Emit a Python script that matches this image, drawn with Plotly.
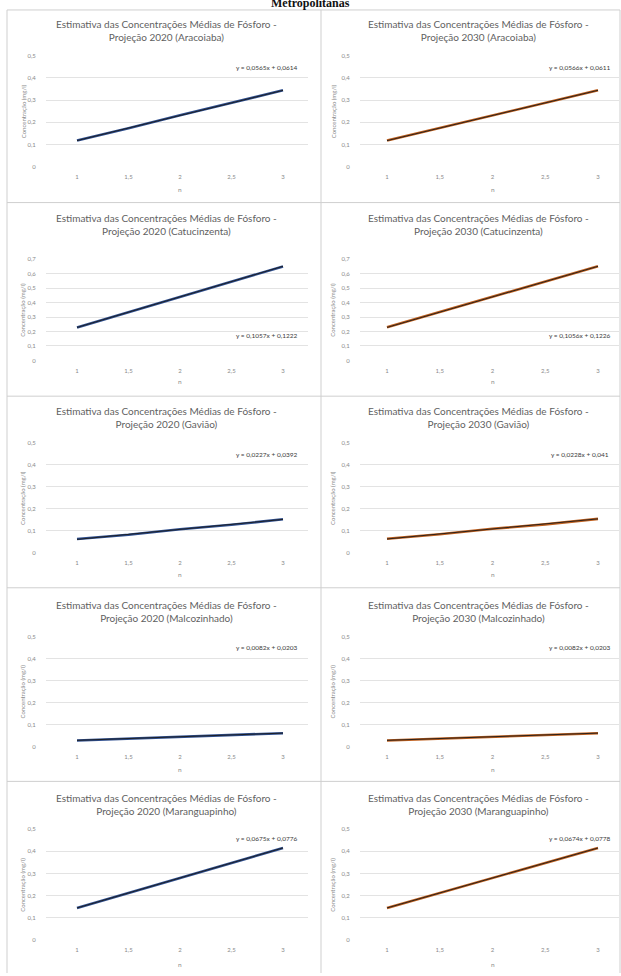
import plotly.graph_objects as go

# ---- data -------------------------------------------------------------
x_vals = [1, 1.5, 2, 2.5, 3]
x_tick_text = ["1", "1,5", "2", "2,5", "3"]

basins = ["Aracoiaba", "Catucinzenta", "Gavião", "Malcozinhado", "Maranguapinho"]
years = ["2020", "2030"]

conc_2020_aracoiaba = [0.118, 0.173, 0.232, 0.289, 0.344]
conc_2020_catucinzenta = [0.228, 0.333, 0.440, 0.546, 0.650]
conc_2020_gaviao = [0.064, 0.083, 0.108, 0.128, 0.153]
conc_2020_malcozinhado = [0.028, 0.037, 0.046, 0.053, 0.061]
conc_2020_maranguapinho = [0.145, 0.212, 0.281, 0.347, 0.415]

conc_2030_aracoiaba = [0.118, 0.174, 0.231, 0.288, 0.344]
conc_2030_catucinzenta = [0.229, 0.334, 0.440, 0.545, 0.651]
conc_2030_gaviao = [0.065, 0.085, 0.110, 0.130, 0.155]
conc_2030_malcozinhado = [0.028, 0.037, 0.046, 0.053, 0.061]
conc_2030_maranguapinho = [0.145, 0.213, 0.280, 0.348, 0.415]

# linear trendline coefficients (slope, intercept) over the point index 1..5
trend_2020_slope = [0.0565, 0.1057, 0.0227, 0.0082, 0.0675]
trend_2020_intercept = [0.0614, 0.1222, 0.0392, 0.0203, 0.0776]
trend_2030_slope = [0.0566, 0.1056, 0.0228, 0.0082, 0.0674]
trend_2030_intercept = [0.0611, 0.1226, 0.041, 0.0203, 0.0778]

eq_2020 = ["y = 0,0565x + 0,0614", "y = 0,1057x + 0,1222", "y = 0,0227x + 0,0392",
           "y = 0,0082x + 0,0203", "y = 0,0675x + 0,0776"]
eq_2030 = ["y = 0,0566x + 0,0611", "y = 0,1056x + 0,1226", "y = 0,0228x + 0,041",
           "y = 0,0082x + 0,0203", "y = 0,0674x + 0,0778"]

y_max = [0.5, 0.7, 0.5, 0.5, 0.5]

series = {
    "2020": [conc_2020_aracoiaba, conc_2020_catucinzenta, conc_2020_gaviao,
             conc_2020_malcozinhado, conc_2020_maranguapinho],
    "2030": [conc_2030_aracoiaba, conc_2030_catucinzenta, conc_2030_gaviao,
             conc_2030_malcozinhado, conc_2030_maranguapinho],
}
trend = {
    "2020": (trend_2020_slope, trend_2020_intercept),
    "2030": (trend_2030_slope, trend_2030_intercept),
}
equations = {"2020": eq_2020, "2030": eq_2030}

# ---- layout geometry (pixels) ----------------------------------------
W, H = 621, 976
FONT = "Lato, 'Open Sans', sans-serif"
line_colors = {"2020": "#2F4F8F", "2030": "#C0601E"}

# vertical pixel position of the zero gridline and the top gridline per row
row_zero = [164, 359, 553, 748, 943]
row_top = [52, 257, 442, 637, 831]
row_title = [27, 222, 416, 612, 806]
row_eq = [64, 334, 454, 648, 841]
row_xlab = [174, 369, 563, 758, 953]
row_n = [187, 380, 575, 771, 967]

# per column: plot left/right edge and pixel positions of x=1 and x=3
cols = {
    "2020": dict(left=46, right=308, x1=77, x3=283, title=166, ytitle=23, eq=267),
    "2030": dict(left=360, right=619, x1=387, x3=598, title=478, ytitle=333, eq=580),
}

def px(x):
    return x / W

def py(y):
    return 1 - y / H

fig = go.Figure()
annotations = []
shapes = []
n_axis = 0

for ci, yr in enumerate(years):
    c = cols[yr]
    k = (c["x3"] - c["x1"]) / 2.0
    xr = [1 - (c["x1"] - c["left"]) / k, 3 + (c["right"] - c["x3"]) / k]
    for ri, basin in enumerate(basins):
        n_axis += 1
        sfx = "" if n_axis == 1 else str(n_axis)
        xa, ya = "x" + sfx, "y" + sfx
        ymax = y_max[ri]
        yticks = [round(v * 0.1, 1) for v in range(int(round(ymax * 10)) + 1)]
        ytext = ["0" if v == 0 else f"{v:.1f}".replace(".", ",") for v in yticks]

        fig.add_trace(go.Scatter(
            x=x_vals, y=series[yr][ri], mode="lines",
            line=dict(color=line_colors[yr], width=2.6),
            xaxis=xa, yaxis=ya, showlegend=False, hoverinfo="skip"))
        slope, intercept = trend[yr][0][ri], trend[yr][1][ri]
        fig.add_trace(go.Scatter(
            x=x_vals, y=[slope * (i + 1) + intercept for i in range(len(x_vals))],
            mode="lines", line=dict(color="#1a1a1a", width=0.9),
            xaxis=xa, yaxis=ya, showlegend=False, hoverinfo="skip"))

        fig.layout["xaxis" + sfx] = dict(
            domain=[px(c["left"]), px(c["right"])], range=xr, anchor=ya,
            tickvals=x_vals, ticktext=x_tick_text, showgrid=False, zeroline=False,
            showline=False, ticks="outside", ticklen=4, tickcolor="rgba(0,0,0,0)",
            tickfont=dict(family=FONT, size=6, color="#8a8a8a"), fixedrange=True)
        fig.layout["yaxis" + sfx] = dict(
            domain=[py(row_zero[ri]), py(row_top[ri])], range=[0, ymax], anchor=xa,
            tickvals=yticks, ticktext=ytext, showgrid=True, gridcolor="#e3e3e3",
            gridwidth=1, zeroline=False, showline=False, ticks="outside", ticklen=8,
            tickcolor="rgba(0,0,0,0)",
            tickfont=dict(family=FONT, size=6, color="#8a8a8a"), fixedrange=True)

        annotations.append(dict(
            text="Estimativa das Concentrações Médias de Fósforo -<br>"
                 f"Projeção {yr} ({basin})",
            x=px(c["title"]), y=py(row_title[ri]), xref="paper", yref="paper",
            xanchor="center", yanchor="middle", showarrow=False,
            font=dict(family=FONT, size=10, color="#5f5f5f")))
        annotations.append(dict(
            text=equations[yr][ri], x=px(c["eq"]), y=py(row_eq[ri]),
            xref="paper", yref="paper", xanchor="center", yanchor="middle",
            showarrow=False, font=dict(family=FONT, size=6.5, color="#3a3a3a")))
        annotations.append(dict(
            text="n", x=px((c["x1"] + c["x3"]) / 2), y=py(row_n[ri]),
            xref="paper", yref="paper", xanchor="center", yanchor="middle",
            showarrow=False, font=dict(family=FONT, size=6.5, color="#8a8a8a")))
        annotations.append(dict(
            text="Concentração (mg/l)", x=px(c["ytitle"]),
            y=py((row_zero[ri] + row_top[ri]) / 2), xref="paper", yref="paper",
            xanchor="center", yanchor="middle", textangle=-90, showarrow=False,
            font=dict(family=FONT, size=6, color="#8a8a8a")))

# heading partly above the page edge
annotations.append(dict(
    text="<b>Metropolitanas</b>", x=px(310), y=py(-1), xref="paper", yref="paper",
    xanchor="center", yanchor="middle", showarrow=False,
    font=dict(family="Liberation Serif, serif", size=12, color="#111111")))

# table cell borders
border = dict(color="#cfcfcf", width=1)
for xv in [7, 321, 620]:
    shapes.append(dict(type="line", xref="paper", yref="paper",
                       x0=px(xv), x1=px(xv), y0=py(6), y1=py(976), line=border))
for yv in [6, 200, 395, 588, 783]:
    shapes.append(dict(type="line", xref="paper", yref="paper",
                       x0=px(7), x1=px(620), y0=py(yv), y1=py(yv), line=border))

fig.update_layout(
    width=W, height=H, margin=dict(l=0, r=0, t=0, b=0),
    paper_bgcolor="white", plot_bgcolor="white",
    annotations=annotations, shapes=shapes, showlegend=False)

fig.write_html("out.html", config={"displayModeBar": False})
